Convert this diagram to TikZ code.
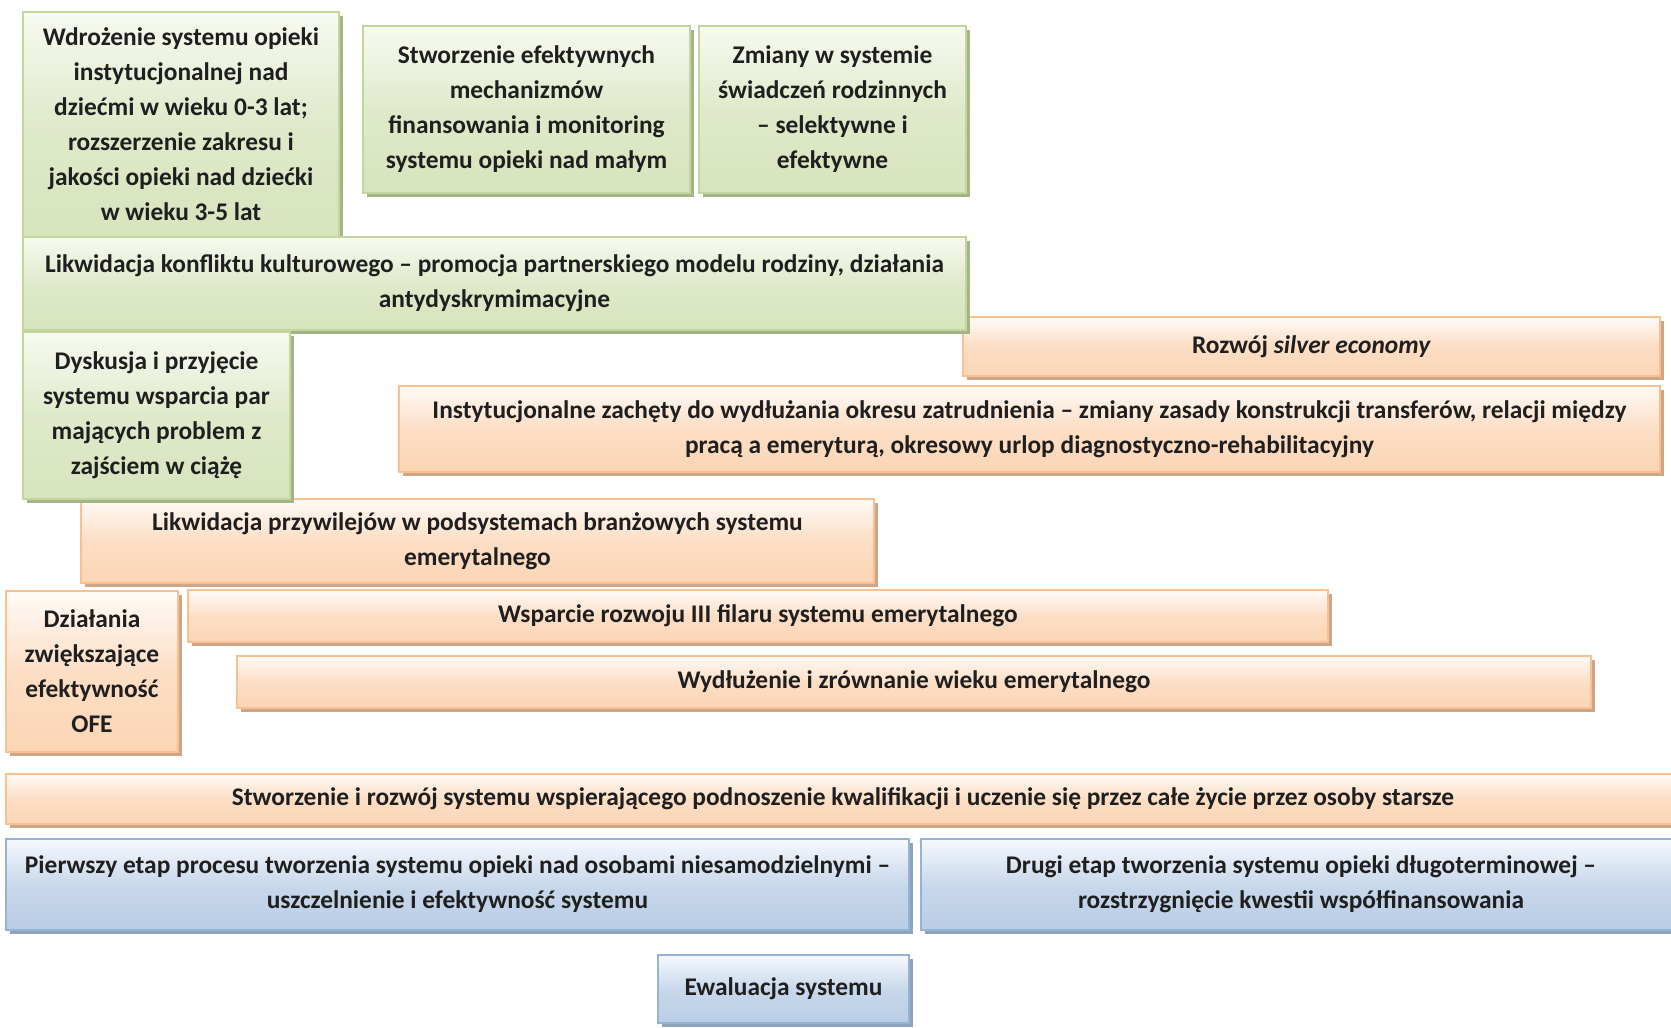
\documentclass[tikz,border=0pt]{standalone}
\usepackage{fontspec}
\setmainfont{Carlito}
\usetikzlibrary{shadows}

\definecolor{greenline}{HTML}{C3D69B}
\definecolor{greentop}{HTML}{F7FAF1}
\definecolor{greenbot}{HTML}{D7E4BD}
\definecolor{greenshade}{HTML}{A3B487}
\definecolor{orangeline}{HTML}{FAC090}
\definecolor{orangetop}{HTML}{FFFAF7}
\definecolor{orangebot}{HTML}{FBD5B5}
\definecolor{orangeshade}{HTML}{CFA588}
\definecolor{blueline}{HTML}{95B3D7}
\definecolor{bluetop}{HTML}{F6F9FD}
\definecolor{bluebot}{HTML}{B9CDE5}
\definecolor{blueshade}{HTML}{8EA2BE}

\tikzset{
  box/.style={rectangle, line width=0.6pt, inner sep=0pt, align=center,
    text=black!88, font=\bfseries\fontsize{12.7}{17.5}\selectfont},
  greenbox/.style={box, draw=greenline, top color=greentop, bottom color=greenbot,
    middle color=greenbot!75!greentop,
    drop shadow={shadow xshift=1.8pt, shadow yshift=-1.8pt, fill=greenshade, opacity=1}},
  orangebox/.style={box, draw=orangeline, top color=orangetop, bottom color=orangebot,
    middle color=orangebot!75!orangetop,
    drop shadow={shadow xshift=1.8pt, shadow yshift=-1.8pt, fill=orangeshade, opacity=1}},
  bluebox/.style={box, draw=blueline, top color=bluetop, bottom color=bluebot,
    middle color=bluebot!75!bluetop,
    drop shadow={shadow xshift=1.8pt, shadow yshift=-1.8pt, fill=blueshade, opacity=1}}
}

\begin{document}
\begin{tikzpicture}[x=0.5pt, y=-0.5pt]
  \useasboundingbox (0,0) rectangle (1671,1028);

  % family policy
  \path (181,124.5) node[greenbox, minimum width=158pt, minimum height=112.5pt] (zlobki)
    {Wdrożenie systemu opieki\\instytucjonalnej nad\\dziećmi w wieku 0-3 lat;\\rozszerzenie zakresu i\\jakości opieki nad dziećki\\w wieku 3-5 lat};
  \path (526.5,109.5) node[greenbox, minimum width=163.5pt, minimum height=83.5pt] (finanse)
    {Stworzenie efektywnych\\mechanizmów\\finansowania i monitoring\\systemu opieki nad małym};
  \path (832.5,109.5) node[greenbox, minimum width=133.5pt, minimum height=83.5pt] (swiadczenia)
    {Zmiany w systemie\\świadczeń rodzinnych\\– selektywne i\\efektywne};

  \path (1311.5,346.5) node[orangebox, minimum width=348.5pt, minimum height=29.5pt] (silver)
    {Rozwój \textit{silver economy}};
  \path (494.5,283.5) node[greenbox, minimum width=471.5pt, minimum height=46.5pt] (kultura)
    {Likwidacja konfliktu kulturowego – promocja partnerskiego modelu rodziny, działania\\antydyskrymimacyjne};

  % pensions
  \path (1029.5,429) node[orangebox, minimum width=630.5pt, minimum height=43pt] (zachety)
    {Instytucjonalne zachęty do wydłużania okresu zatrudnienia – zmiany zasady konstrukcji transferów, relacji między\\pracą a emeryturą, okresowy urlop diagnostyczno-rehabilitacyjny};
  \path (477.5,541) node[orangebox, minimum width=396.5pt, minimum height=42pt] (przywileje)
    {Likwidacja przywilejów w podsystemach branżowych systemu\\emerytalnego};
  \path (156.5,415.5) node[greenbox, minimum width=133.5pt, minimum height=83.5pt] (ciaza)
    {Dyskusja i przyjęcie\\systemu wsparcia par\\mających problem z\\zajściem w ciążę};

  \path (92,671.5) node[orangebox, minimum width=86pt, minimum height=80.5pt] (ofe)
    {Działania\\zwiększające\\efektywność\\OFE};
  \path (758,616) node[orangebox, minimum width=570pt, minimum height=26pt] (filar)
    {Wsparcie rozwoju III filaru systemu emerytalnego};
  \path (914,682) node[orangebox, minimum width=677pt, minimum height=26pt] (wiek)
    {Wydłużenie i zrównanie wieku emerytalnego};
  \path (843,799) node[orangebox, minimum width=837pt, minimum height=25pt] (uczenie)
    {Stworzenie i rozwój systemu wspierającego podnoszenie kwalifikacji i uczenie się przez całe życie przez osoby starsze};

  % long-term care
  \path (457.5,884.5) node[bluebox, minimum width=451.5pt, minimum height=45.5pt] (etap1)
    {Pierwszy etap procesu tworzenia systemu opieki nad osobami niesamodzielnymi –\\uszczelnienie i efektywność systemu};
  \path (1301,884.5) node[bluebox, minimum width=380pt, minimum height=45.5pt] (etap2)
    {Drugi etap tworzenia systemu opieki długoterminowej –\\rozstrzygnięcie kwestii współfinansowania};
  \path (783.5,989) node[bluebox, minimum width=125.5pt, minimum height=34pt] (ewaluacja)
    {Ewaluacja systemu};
\end{tikzpicture}
\end{document}
